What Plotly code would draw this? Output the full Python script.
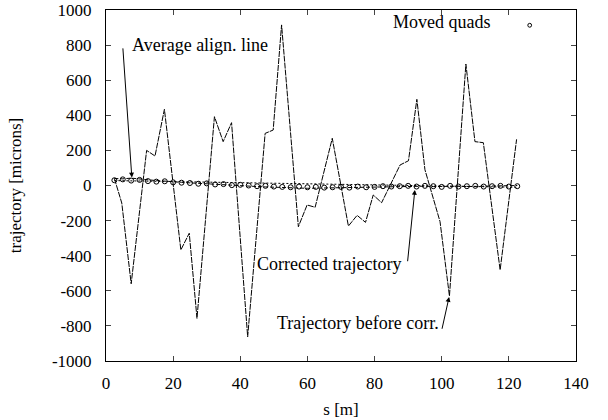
import plotly.graph_objects as go

# Trajectory before correction (vertices)
s_before = [2.5, 4.7, 7.5, 12.1, 14.6, 17.4, 22.3, 24.8, 27.1, 32.3, 34.9, 37.4,
            42.2, 47.4, 49.8, 52.3, 57.3, 59.9, 62.3, 67.4, 72.2, 74.8, 77.3,
            79.6, 82.1, 87.6, 90.1, 92.6, 95.0, 99.5, 102.3, 107.2, 109.9,
            112.4, 117.4, 122.3]
y_before = [40, -100, -560, 200, 168, 434, -367, -272, -757, 392, 250, 358,
            -862, 297, 316, 915, -235, -111, -124, 269, -231, -170, -210,
            -54, -98, 117, 141, 491, 90, -206, -630, 692, 250, 244, -481, 263]

# Quad positions
s_quads = [2.5, 5.0, 7.5, 10.0, 12.5, 15.0, 17.5, 20.0, 22.5, 25.0, 27.5, 30.0,
           32.5, 35.0, 37.5, 40.0, 42.5, 45.0, 47.5, 50.0, 52.5, 55.0, 57.5,
           60.0, 62.5, 65.0, 67.5, 70.0, 72.5, 75.0, 77.5, 80.0, 82.5, 85.0,
           87.5, 90.0, 92.5, 95.0, 97.5, 100.0, 102.5, 105.0, 107.5, 110.0,
           112.5, 115.0, 117.5, 120.0, 122.5]
y_corrected = [40, 38, 42, 36, 30, 28, 25, 20, 18, 15, 12, 8,
               5, 2, 0, -2, -5, -6, -8, -10, -12, -14, -15,
               -16, -15, -14, -15, -13, -12, -13, -12, -10, -10, -8,
               -6, -5, -2, -4, -6, -5, -3, -4, -6, -5,
               -4, -3, -2, -1, 0]
y_quads = [30, 35, 28, 32, 25, 22, 24, 18, 16, 14, 10, 12,
           6, 8, 2, 4, 0, -4, -2, -6, -8, -10, -6,
           -10, -8, -12, -10, -8, -12, -6, -10, -8, -4, -6,
           -4, -2, -6, -2, -4, -8, -2, -6, -4, -2,
           -6, -4, -2, -6, -4]

# Average alignment line
s_avg = [2.5, 122.5]
y_avg = [28, -10]

x_ticks = [0, 20, 40, 60, 80, 100, 120, 140]
y_ticks = [-1000, -800, -600, -400, -200, 0, 200, 400, 600, 800, 1000]
y_ticktext = [str(v) for v in y_ticks]

FONT = "Liberation Serif, Times New Roman, serif"

fig = go.Figure()
fig.add_trace(go.Scatter(x=s_avg, y=y_avg, mode="lines",
                         line=dict(color="black", width=1, dash="2px,2px"),
                         showlegend=False, hoverinfo="skip"))
fig.add_trace(go.Scatter(x=s_quads, y=y_corrected, mode="lines",
                         line=dict(color="black", width=1, dash="4px,2px"),
                         showlegend=False, hoverinfo="skip"))
fig.add_trace(go.Scatter(x=s_quads, y=y_quads, mode="markers",
                         marker=dict(symbol="circle-open", size=5,
                                     color="black", line=dict(width=1)),
                         showlegend=False, hoverinfo="skip"))
fig.add_trace(go.Scatter(x=s_before, y=y_before, mode="lines",
                         line=dict(color="black", width=1, dash="6px,1px"),
                         showlegend=False, hoverinfo="skip"))

ann_font = dict(family=FONT, size=18, color="black")
annotations = [
    # text labels
    dict(x=7.2, y=800, xref="x", yref="y", text="Average align. line",
         showarrow=False, xanchor="left", yanchor="middle", font=ann_font),
    dict(x=88.6, y=-450, xref="x", yref="y", text="Corrected trajectory",
         showarrow=False, xanchor="right", yanchor="middle", font=ann_font),
    dict(x=99.8, y=-785, xref="x", yref="y", text="Trajectory before corr.",
         showarrow=False, xanchor="right", yanchor="middle", font=ann_font),
    dict(x=0.823, y=0.966, xref="paper", yref="paper", text="Moved quads",
         showarrow=False, xanchor="right", yanchor="middle", font=ann_font),
    # arrows
    dict(x=7.7, y=45, ax=5.0, ay=790, xref="x", yref="y", axref="x", ayref="y",
         text="", showarrow=True, arrowhead=2, arrowsize=1, arrowwidth=1,
         arrowcolor="black"),
    dict(x=92.0, y=-25, ax=89.8, ay=-440, xref="x", yref="y", axref="x", ayref="y",
         text="", showarrow=True, arrowhead=2, arrowsize=1, arrowwidth=1,
         arrowcolor="black"),
    dict(x=102.2, y=-635, ax=100.0, ay=-825, xref="x", yref="y", axref="x", ayref="y",
         text="", showarrow=True, arrowhead=2, arrowsize=1, arrowwidth=1,
         arrowcolor="black"),
]

fig.update_layout(
    width=608, height=420,
    margin=dict(l=106, r=32, t=10, b=59),
    paper_bgcolor="white", plot_bgcolor="white",
    font=dict(family=FONT, size=16, color="black"),
    annotations=annotations,
    shapes=[dict(type="circle", xref="paper", yref="paper",
                 x0=0.8975, x1=0.9055, y0=0.951, y1=0.962,
                 line=dict(color="black", width=1))],
    showlegend=False,
)
fig.update_xaxes(range=[0, 140], tickvals=x_ticks, ticks="inside", ticklen=5,
                 showline=True, linecolor="black", linewidth=1, mirror="ticks",
                 showgrid=False, zeroline=False, automargin=False,
                 ticklabelstandoff=7, ticklabeloverflow="allow",
                 tickfont=dict(family=FONT, size=17),
                 title=dict(text="s [m]", font=dict(family=FONT, size=17), standoff=10))
fig.update_yaxes(range=[-1000, 1000], tickvals=y_ticks, ticktext=y_ticktext,
                 ticks="inside", ticklen=5,
                 showline=True, linecolor="black", linewidth=1, mirror="ticks",
                 showgrid=False, zeroline=False, automargin=False,
                 ticklabelstandoff=10, ticklabeloverflow="allow",
                 tickfont=dict(family=FONT, size=17),
                 title=dict(text="trajectory [microns]", font=dict(family=FONT, size=17),
                            standoff=25))

# remove the default 8px page margin so the figure fills the window exactly
fig.write_html("out.html", config={"displayModeBar": False},
               post_script="document.body.style.margin='0';")
